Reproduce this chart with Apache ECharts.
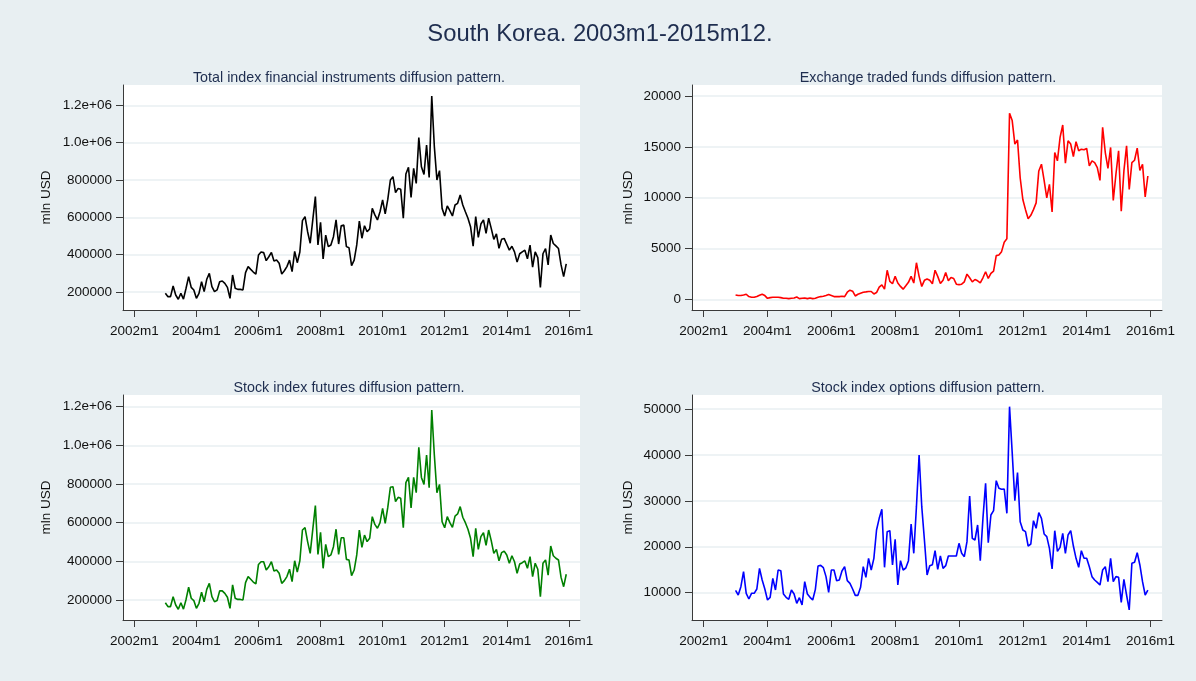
<!DOCTYPE html>
<html>
<head>
<meta charset="utf-8">
<script src="https://cdn.jsdelivr.net/npm/echarts@6/dist/echarts.min.js"></script>
<style>
  html, body { margin: 0; padding: 0; background: #e8eff2; }
  #chart { width: 1196px; height: 681px; }
</style>
</head>
<body>
<div id="chart"></div>
<script>
// monthly values, 2003m1 .. 2015m12
const totalIndex = [
  193000, 175000, 175000, 232000, 184000, 161000, 193000, 162000, 220000, 282000, 225000, 211000,
  166000, 193000, 255000, 202000, 268000, 300000, 229000, 202000, 211000, 255000, 259000, 246000,
  225000, 166000, 291000, 220000, 214000, 214000, 211000, 304000, 336000, 321000, 307000, 296000,
  398000, 414000, 411000, 368000, 389000, 412000, 366000, 371000, 354000, 296000, 314000, 336000,
  371000, 309000, 418000, 357000, 414000, 582000, 604000, 523000, 461000, 586000, 711000, 452000,
  573000, 377000, 505000, 443000, 452000, 496000, 586000, 457000, 555000, 559000, 443000, 437000,
  341000, 371000, 452000, 580000, 488000, 555000, 523000, 538000, 648000, 613000, 586000, 630000,
  693000, 618000, 696000, 800000, 818000, 732000, 755000, 750000, 595000, 832000, 868000, 707000,
  862000, 782000, 1027000, 871000, 830000, 987000, 814000, 1250000, 979000, 800000, 850000, 648000,
  607000, 661000, 636000, 607000, 666000, 675000, 720000, 666000, 630000, 595000, 550000, 446000,
  604000, 493000, 564000, 586000, 514000, 596000, 541000, 482000, 511000, 434000, 482000, 487000,
  456000, 424000, 445000, 415000, 360000, 405000, 415000, 424000, 378000, 451000, 333000, 415000,
  384000, 224000, 405000, 433000, 345000, 505000, 460000, 447000, 433000, 345000, 282000, 351000
];

const etf = [
  430, 370, 370, 430, 500, 270, 200, 200, 270, 400, 500, 370,
  100, 170, 200, 200, 200, 170, 100, 100, 70, 100, 130, 230,
  70, 100, 130, 70, 130, 70, 100, 200, 270, 300, 370, 470,
  370, 270, 270, 270, 300, 270, 700, 900, 800, 330, 500, 600,
  700, 730, 770, 770, 530, 670, 1200, 1430, 1000, 2860, 1770, 1530,
  2260, 1600, 1270, 1000, 1330, 1670, 2260, 1600, 3600, 2260, 1270, 1870,
  2000, 1870, 1530, 2860, 2260, 1550, 1880, 2640, 1820, 2150, 2050, 1490,
  1450, 1490, 1720, 2480, 2120, 1720, 1950, 1820, 1620, 2120, 2710, 2050,
  2550, 2780, 4300, 4360, 4690, 5620, 5950, 18310, 17580, 15270, 15670, 11960,
  9820, 8820, 7930, 8260, 8820, 9490, 12630, 13290, 11700, 9980, 11300, 8590,
  14440, 13620, 15930, 17150, 13390, 15600, 15270, 14050, 15500, 14610, 14770, 14710,
  14840, 13120, 13620, 13450, 12960, 11700, 16920, 14440, 12890, 14940, 9720, 12300,
  14610, 8660, 12630, 15100, 10810, 13450, 13680, 14870, 12690, 13290, 10080, 12130
];

const futures = [
  186000, 166000, 166000, 217000, 174000, 152000, 186000, 153000, 203000, 266000, 209000, 197000,
  157000, 183000, 240000, 191000, 255000, 286000, 217000, 191000, 197000, 247000, 247000, 234000,
  214000, 157000, 278000, 209000, 203000, 203000, 200000, 290000, 321000, 307000, 293000, 283000,
  384000, 398000, 398000, 355000, 372000, 398000, 350000, 355000, 338000, 286000, 300000, 321000,
  359000, 295000, 403000, 345000, 403000, 562000, 574000, 502000, 441000, 565000, 688000, 436000,
  550000, 364000, 488000, 424000, 433000, 476000, 566000, 436000, 522000, 522000, 410000, 407000,
  326000, 355000, 433000, 562000, 472000, 536000, 502000, 519000, 631000, 591000, 571000, 600000,
  674000, 597000, 679000, 783000, 786000, 709000, 731000, 726000, 574000, 807000, 834000, 676000,
  834000, 755000, 990000, 834000, 798000, 950000, 781000, 1183000, 950000, 755000, 798000, 605000,
  574000, 631000, 600000, 576000, 634000, 645000, 683000, 628000, 600000, 566000, 519000, 424000,
  571000, 462000, 528000, 548000, 483000, 562000, 507000, 441000, 462000, 403000, 445000, 453000,
  433000, 390000, 429000, 398000, 338000, 386000, 393000, 402000, 364000, 424000, 321000, 390000,
  359000, 217000, 390000, 407000, 329000, 479000, 429000, 416000, 407000, 317000, 269000, 333000
];

const options = [
  10510, 9490, 11310, 14570, 9860, 8620, 9860, 9860, 10800, 15300, 12760, 10800,
  8400, 8980, 13120, 10580, 14940, 14790, 9710, 8980, 8550, 10580, 9710, 7680,
  8910, 7310, 12400, 9710, 8980, 8400, 10730, 15810, 15950, 15450, 13490, 10070,
  14940, 14940, 12610, 12760, 14720, 15660, 12610, 12030, 10800, 9420, 9420, 11160,
  15660, 13340, 17480, 14940, 17480, 23650, 26190, 28150, 15520, 23290, 23500, 16030,
  21620, 11670, 16970, 14940, 15370, 16970, 24960, 18570, 28730, 39980, 28730, 21470,
  13850, 15880, 16100, 19150, 15080, 17990, 15300, 15880, 17990, 17990, 17990, 17990,
  20750, 18570, 17840, 21110, 31050, 21830, 21470, 24740, 16970, 26190, 33810, 20890,
  26920, 27860, 34390, 32720, 32510, 32580, 27280, 50510, 40500, 30040, 36140, 25460,
  23650, 23290, 20160, 20600, 25680, 24010, 27420, 26190, 22780, 22200, 19660, 15160,
  23500, 19000, 19870, 22920, 18570, 22560, 23500, 20160, 17480, 15520, 19150, 17480,
  17480, 15660, 13490, 12760, 12250, 11670, 14940, 15660, 12400, 17480, 12400, 13490,
  13340, 7900, 12900, 9490, 6230, 16390, 16610, 18710, 16030, 12400, 9490, 10580
];

const yearTicks = [2002, 2004, 2006, 2008, 2010, 2012, 2014, 2016];
const bigTicks = [200000, 400000, 600000, 800000, 1000000, 1200000];
const etfTicks = [0, 5000, 10000, 15000, 20000];
const optionTicks = [10000, 20000, 30000, 40000, 50000];

const months = [];
for (let y = 2003; y <= 2015; y++) {
  for (let m = 1; m <= 12; m++) months.push(y + (m - 1) / 12);
}

const FONT = "'Liberation Sans', Arial, sans-serif";
const AXIS_COLOR = '#3a3a3a';
const GRID_COLOR = '#e8eff2';

const chart = echarts.init(document.getElementById('chart'));

function bigFmt(v) {
  return v >= 1000000 ? (v / 1000000).toFixed(1) + 'e+06' : String(v);
}

function xAxisFor(gi) {
  return {
    type: 'value', gridIndex: gi,
    min: 2001.635, max: 2016.36,
    axisLine: { onZero: false, lineStyle: { color: AXIS_COLOR, width: 1 } },
    axisTick: { length: 7, customValues: yearTicks, lineStyle: { color: AXIS_COLOR } },
    axisLabel: {
      customValues: yearTicks, margin: 14,
      formatter: v => Math.round(v) + 'm1',
      color: '#111', fontSize: 13.5, fontFamily: FONT
    },
    splitLine: { show: false }
  };
}

function yAxisFor(gi, min, max, ticks, fmt, gap) {
  return {
    type: 'value', gridIndex: gi, min: min, max: max,
    name: 'mln USD', nameLocation: 'middle', nameGap: gap, nameRotate: 90,
    nameTextStyle: { color: '#111', fontSize: 13.5, fontFamily: FONT },
    axisLine: { show: true, lineStyle: { color: AXIS_COLOR, width: 1 } },
    axisTick: { show: true, length: 7, customValues: ticks, lineStyle: { color: AXIS_COLOR } },
    axisLabel: {
      customValues: ticks, margin: 11, formatter: fmt,
      color: '#111', fontSize: 13.5, fontFamily: FONT
    },
    splitLine: { show: true, lineStyle: { color: GRID_COLOR, width: 1.5 } }
  };
}

function lineSeries(idx, values, color) {
  return {
    type: 'line', xAxisIndex: idx, yAxisIndex: idx,
    data: values.map((v, i) => [months[i], v]),
    showSymbol: false, symbol: 'none',
    lineStyle: { color: color, width: 1.6 },
    animation: false
  };
}

const gridStyle = { show: true, backgroundColor: '#ffffff', borderWidth: 0 };
const subStyle = { color: '#1e2d4f', fontSize: 14.3, fontWeight: 'normal', fontFamily: FONT };

chart.setOption({
  backgroundColor: '#e8eff2',
  animation: false,
  title: [
    { text: 'South Korea. 2003m1-2015m12.', left: 595, top: 17, textAlign: 'center',
      textStyle: { color: '#1e2d4f', fontSize: 23.8, fontWeight: 'normal', fontFamily: FONT } },
    { text: 'Total index financial instruments diffusion pattern.', left: 344, top: 66, textAlign: 'center', textStyle: subStyle },
    { text: 'Exchange traded funds diffusion pattern.', left: 923, top: 66, textAlign: 'center', textStyle: subStyle },
    { text: 'Stock index futures diffusion pattern.', left: 344, top: 376, textAlign: 'center', textStyle: subStyle },
    { text: 'Stock index options diffusion pattern.', left: 923, top: 376, textAlign: 'center', textStyle: subStyle }
  ],
  grid: [
    Object.assign({ left: 123, top: 85, width: 457, height: 225 }, gridStyle),
    Object.assign({ left: 692, top: 85, width: 470, height: 225 }, gridStyle),
    Object.assign({ left: 123, top: 395, width: 457, height: 225 }, gridStyle),
    Object.assign({ left: 692, top: 395, width: 470, height: 225 }, gridStyle)
  ],
  xAxis: [xAxisFor(0), xAxisFor(1), xAxisFor(2), xAxisFor(3)],
  yAxis: [
    yAxisFor(0, 103560, 1308900, bigTicks, bigFmt, 70),
    yAxisFor(1, -1049, 21082, etfTicks, v => String(v), 57),
    yAxisFor(2, 96560, 1260360, bigTicks, bigFmt, 70),
    yAxisFor(3, 4048, 53049, optionTicks, v => String(v), 57)
  ],
  series: [
    lineSeries(0, totalIndex, '#000000'),
    lineSeries(1, etf, '#ff0000'),
    lineSeries(2, futures, '#008000'),
    lineSeries(3, options, '#0000ff')
  ]
});
</script>
</body>
</html>
